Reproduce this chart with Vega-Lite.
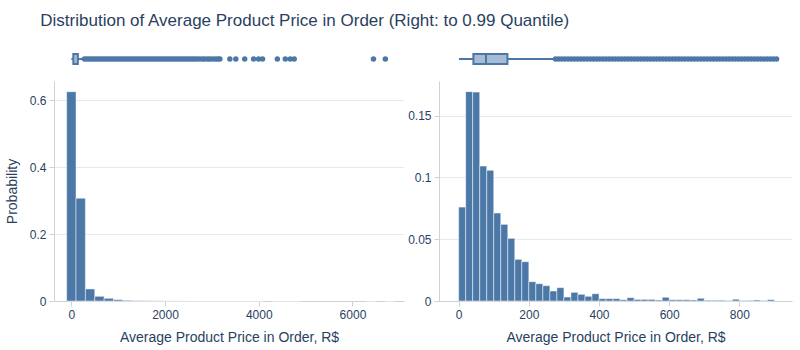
{
  "$schema": "https://vega.github.io/schema/vega-lite/v6.json",
  "padding": {"left": 5, "top": 12, "right": 10, "bottom": 5},
  "background": "white",
  "title": {"text": "Distribution of Average Product Price in Order (Right: to 0.99 Quantile)", "anchor": "start", "dx": 35, "fontSize": 17, "fontWeight": "normal", "font": "Liberation Sans", "color": "#2a3f5f", "offset": 19},
  "bounds": "flush",
  "columns": 2,
  "spacing": {"column": 35, "row": 12},
  "config": {
    "view": {"stroke": null},
    "font": "Liberation Sans",
    "axis": {"labelFont": "Liberation Sans", "titleFont": "Liberation Sans", "labelColor": "#2a3f5f", "titleColor": "#2a3f5f", "labelFontSize": 12, "titleFontSize": 14, "titleFontWeight": "normal", "domainColor": "#cdd2d9", "tickColor": "#cdd2d9", "tickSize": 5, "gridColor": "#e6e9ee", "labelPadding": 3, "labelExpr": "'' + datum.value"},
    "axisX": {"grid": false, "titlePadding": 10},
    "axisY": {"grid": true, "titlePadding": 10}
  },
  "datasets": {
    "histL": [
      {"b0": -100, "b1": 100, "p": 0.625},
      {"b0": 100, "b1": 300, "p": 0.307},
      {"b0": 300, "b1": 500, "p": 0.036},
      {"b0": 500, "b1": 700, "p": 0.014},
      {"b0": 700, "b1": 900, "p": 0.008},
      {"b0": 900, "b1": 1100, "p": 0.004},
      {"b0": 1100, "b1": 1300, "p": 0.002},
      {"b0": 1300, "b1": 1500, "p": 0.0012},
      {"b0": 1500, "b1": 1700, "p": 0.0008},
      {"b0": 1700, "b1": 1900, "p": 0.0005},
      {"b0": 1900, "b1": 2100, "p": 0.0003},
      {"b0": 2100, "b1": 2300, "p": 0.0002},
      {"b0": 2300, "b1": 2500, "p": 0.0001},
      {"b0": 2500, "b1": 2700, "p": 0.0001},
      {"b0": 2700, "b1": 2900, "p": 0.00005},
      {"b0": 2900, "b1": 3100, "p": 0.00005},
      {"b0": 3100, "b1": 3300, "p": 0.00003},
      {"b0": 3300, "b1": 3500, "p": 0.00001},
      {"b0": 3500, "b1": 3700, "p": 0.00001},
      {"b0": 3700, "b1": 3900, "p": 0.00001},
      {"b0": 3900, "b1": 4100, "p": 0.00002},
      {"b0": 4300, "b1": 4500, "p": 0.00001},
      {"b0": 4500, "b1": 4700, "p": 0.00002},
      {"b0": 4700, "b1": 4900, "p": 0.00001},
      {"b0": 6300, "b1": 6500, "p": 0.00001},
      {"b0": 6700, "b1": 6900, "p": 0.00001}
    ],
    "histR": [
      {"b0": 0, "b1": 20, "p": 0.076},
      {"b0": 20, "b1": 40, "p": 0.1694},
      {"b0": 40, "b1": 60, "p": 0.169},
      {"b0": 60, "b1": 80, "p": 0.1092},
      {"b0": 80, "b1": 100, "p": 0.1057},
      {"b0": 100, "b1": 120, "p": 0.0712},
      {"b0": 120, "b1": 140, "p": 0.062},
      {"b0": 140, "b1": 160, "p": 0.0507},
      {"b0": 160, "b1": 180, "p": 0.0337},
      {"b0": 180, "b1": 200, "p": 0.0318},
      {"b0": 200, "b1": 220, "p": 0.0156},
      {"b0": 220, "b1": 240, "p": 0.014},
      {"b0": 240, "b1": 260, "p": 0.0124},
      {"b0": 260, "b1": 280, "p": 0.0081},
      {"b0": 280, "b1": 300, "p": 0.0108},
      {"b0": 300, "b1": 320, "p": 0.0032},
      {"b0": 320, "b1": 340, "p": 0.007},
      {"b0": 340, "b1": 360, "p": 0.0054},
      {"b0": 360, "b1": 380, "p": 0.0038},
      {"b0": 380, "b1": 400, "p": 0.0059},
      {"b0": 400, "b1": 420, "p": 0.0019},
      {"b0": 420, "b1": 440, "p": 0.0019},
      {"b0": 440, "b1": 460, "p": 0.0019},
      {"b0": 460, "b1": 480, "p": 0.001},
      {"b0": 480, "b1": 500, "p": 0.0027},
      {"b0": 500, "b1": 520, "p": 0.0013},
      {"b0": 520, "b1": 540, "p": 0.0013},
      {"b0": 540, "b1": 560, "p": 0.0013},
      {"b0": 560, "b1": 580, "p": 0.0008},
      {"b0": 580, "b1": 600, "p": 0.003},
      {"b0": 600, "b1": 620, "p": 0.001},
      {"b0": 620, "b1": 640, "p": 0.001},
      {"b0": 640, "b1": 660, "p": 0.001},
      {"b0": 660, "b1": 680, "p": 0.0008},
      {"b0": 680, "b1": 700, "p": 0.0022},
      {"b0": 700, "b1": 720, "p": 0.0006},
      {"b0": 720, "b1": 740, "p": 0.0006},
      {"b0": 740, "b1": 760, "p": 0.0006},
      {"b0": 760, "b1": 780, "p": 0.0004},
      {"b0": 780, "b1": 800, "p": 0.0014},
      {"b0": 800, "b1": 820, "p": 0.0004},
      {"b0": 820, "b1": 840, "p": 0.0005},
      {"b0": 840, "b1": 860, "p": 0.0008},
      {"b0": 860, "b1": 880, "p": 0.0004},
      {"b0": 880, "b1": 900, "p": 0.0011}
    ],
    "stats": [{"lo": 0.85, "q1": 42, "med": 78, "q3": 139, "hi": 274}],
    "outL": [
      {"v": 280}, {"v": 330}, {"v": 380}, {"v": 430}, {"v": 480}, {"v": 530}, {"v": 580}, {"v": 630}, {"v": 680}, {"v": 730},
      {"v": 780}, {"v": 830}, {"v": 880}, {"v": 930}, {"v": 980}, {"v": 1030}, {"v": 1080}, {"v": 1130}, {"v": 1180}, {"v": 1230},
      {"v": 1280}, {"v": 1330}, {"v": 1380}, {"v": 1430}, {"v": 1480}, {"v": 1530}, {"v": 1580}, {"v": 1630}, {"v": 1680}, {"v": 1730},
      {"v": 1780}, {"v": 1830}, {"v": 1880}, {"v": 1930}, {"v": 1980}, {"v": 2030}, {"v": 2080}, {"v": 2130}, {"v": 2180}, {"v": 2230},
      {"v": 2280}, {"v": 2330}, {"v": 2380}, {"v": 2430}, {"v": 2480}, {"v": 2530}, {"v": 2580}, {"v": 2630}, {"v": 2680},
      {"v": 2740}, {"v": 2800}, {"v": 2850}, {"v": 2910}, {"v": 2960}, {"v": 3020}, {"v": 3080}, {"v": 3130}, {"v": 3171},
      {"v": 3383}, {"v": 3510}, {"v": 3700}, {"v": 3890}, {"v": 3996}, {"v": 4080}, {"v": 4397}, {"v": 4567}, {"v": 4672}, {"v": 4757},
      {"v": 6448}, {"v": 6702}
    ],
    "outR": [
      {"v": 276}, {"v": 285}, {"v": 294}, {"v": 303}, {"v": 312}, {"v": 321}, {"v": 330}, {"v": 339}, {"v": 348}, {"v": 357},
      {"v": 366}, {"v": 375}, {"v": 384}, {"v": 393}, {"v": 402}, {"v": 411}, {"v": 420}, {"v": 429}, {"v": 438}, {"v": 447},
      {"v": 456}, {"v": 465}, {"v": 474}, {"v": 483}, {"v": 492}, {"v": 501}, {"v": 510}, {"v": 519}, {"v": 528}, {"v": 537},
      {"v": 546}, {"v": 555}, {"v": 564}, {"v": 573}, {"v": 582}, {"v": 591}, {"v": 600}, {"v": 609}, {"v": 618}, {"v": 627},
      {"v": 636}, {"v": 645}, {"v": 654}, {"v": 663}, {"v": 672}, {"v": 681}, {"v": 690}, {"v": 699}, {"v": 708}, {"v": 717},
      {"v": 726}, {"v": 735}, {"v": 744}, {"v": 753}, {"v": 762}, {"v": 771}, {"v": 780}, {"v": 789}, {"v": 798}, {"v": 807},
      {"v": 816}, {"v": 825}, {"v": 834}, {"v": 843}, {"v": 852}, {"v": 861}, {"v": 870}, {"v": 879}, {"v": 888}, {"v": 897}, {"v": 906}
    ]
  },
  "concat": [
    {
      "width": 350, "height": 20,
      "layer": [
        {"data": {"name": "stats"}, "mark": {"type": "rule", "color": "#4c78a8", "strokeWidth": 2},
         "encoding": {"x": {"field": "lo", "type": "quantitative", "scale": {"domain": [-370, 7100], "nice": false, "zero": false}, "axis": null}, "x2": {"field": "hi"}, "y": {"datum": 0, "type": "quantitative", "scale": {"domain": [-1, 1]}, "axis": null}}},
        {"data": {"name": "stats"}, "mark": {"type": "bar", "fill": "#a6bbd4", "stroke": "#4c78a8", "strokeWidth": 2},
         "encoding": {"x": {"field": "q1", "type": "quantitative"}, "x2": {"field": "q3"}, "y": {"datum": -0.5, "type": "quantitative"}, "y2": {"datum": 0.5}}},
        {"data": {"name": "outL"}, "mark": {"type": "circle", "color": "#4c78a8", "opacity": 1, "size": 30},
         "encoding": {"x": {"field": "v", "type": "quantitative"}, "y": {"datum": 0, "type": "quantitative"}}}
      ]
    },
    {
      "width": 353, "height": 20,
      "layer": [
        {"data": {"name": "stats"}, "mark": {"type": "rule", "color": "#4c78a8", "strokeWidth": 2},
         "encoding": {"x": {"field": "lo", "type": "quantitative", "scale": {"domain": [-56, 950], "nice": false, "zero": false}, "axis": null}, "x2": {"field": "hi"}, "y": {"datum": 0, "type": "quantitative", "scale": {"domain": [-1, 1]}, "axis": null}}},
        {"data": {"name": "stats"}, "mark": {"type": "bar", "fill": "#a6bbd4", "stroke": "#4c78a8", "strokeWidth": 2},
         "encoding": {"x": {"field": "q1", "type": "quantitative"}, "x2": {"field": "q3"}, "y": {"datum": -0.5, "type": "quantitative"}, "y2": {"datum": 0.5}}},
        {"data": {"name": "stats"}, "mark": {"type": "rule", "color": "#4c78a8", "strokeWidth": 2},
         "encoding": {"x": {"field": "med", "type": "quantitative"}, "y": {"datum": -0.5, "type": "quantitative"}, "y2": {"datum": 0.5}}},
        {"data": {"name": "outR"}, "mark": {"type": "circle", "color": "#4c78a8", "opacity": 1, "size": 30},
         "encoding": {"x": {"field": "v", "type": "quantitative"}, "y": {"datum": 0, "type": "quantitative"}}}
      ]
    },
    {
      "width": 350, "height": 220,
      "data": {"name": "histL"},
      "mark": {"type": "bar", "color": "#4c78a8", "stroke": "#ffffff", "strokeWidth": 0.8, "strokeOpacity": 0.6},
      "encoding": {
        "x": {"field": "b0", "type": "quantitative", "scale": {"domain": [-370, 7100], "nice": false, "zero": false}, "axis": {"values": [0, 2000, 4000, 6000], "title": "Average Product Price in Order, R$"}},
        "x2": {"field": "b1"},
        "y": {"field": "p", "type": "quantitative", "scale": {"domain": [0, 0.657], "nice": false}, "axis": {"values": [0, 0.2, 0.4, 0.6], "title": "Probability"}},
        "y2": {"datum": 0}
      }
    },
    {
      "width": 353, "height": 220,
      "data": {"name": "histR"},
      "mark": {"type": "bar", "color": "#4c78a8", "stroke": "#ffffff", "strokeWidth": 0.8, "strokeOpacity": 0.6},
      "encoding": {
        "x": {"field": "b0", "type": "quantitative", "scale": {"domain": [-56, 950], "nice": false, "zero": false}, "axis": {"values": [0, 200, 400, 600, 800], "title": "Average Product Price in Order, R$"}},
        "x2": {"field": "b1"},
        "y": {"field": "p", "type": "quantitative", "scale": {"domain": [0, 0.178], "nice": false}, "axis": {"values": [0, 0.05, 0.1, 0.15], "title": null}},
        "y2": {"datum": 0}
      }
    }
  ]
}
